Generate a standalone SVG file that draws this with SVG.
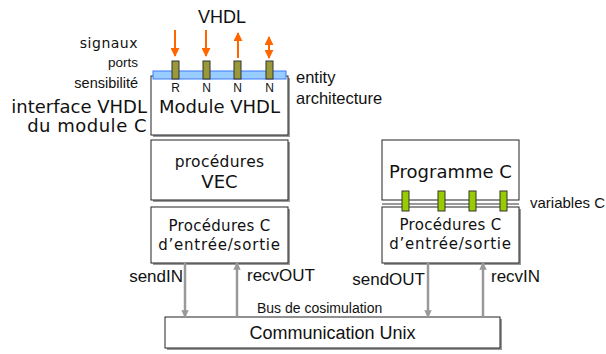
<svg xmlns="http://www.w3.org/2000/svg" width="606" height="354" viewBox="0 0 606 354">
<defs>
<style>
.box{fill:#fff;stroke:#222;stroke-width:1}
.shadow{fill:#9a9a9a}
.dv{font-family:"DejaVu Sans",Verdana,sans-serif;fill:#111}
.ar{font-family:"Liberation Sans",Arial,sans-serif;fill:#111}
.port{fill:#99993a;stroke:#333;stroke-width:1}
.var{fill:#99cc00;stroke:#333;stroke-width:1}
.sig{stroke:#ff6600;stroke-width:2;fill:none}
.bus{stroke:#999;stroke-width:2.5;fill:none}
</style>
<marker id="ao" viewBox="0 0 10 10" refX="9" refY="5" markerWidth="4.5" markerHeight="4.5" orient="auto-start-reverse" markerUnits="strokeWidth"><path d="M0,0 L10,5 L0,10 z" fill="#ff6600"/></marker>
<marker id="ag" viewBox="0 0 10 10" refX="9" refY="5" markerWidth="3" markerHeight="3" orient="auto" markerUnits="strokeWidth"><path d="M0,0 L10,5 L0,10 z" fill="#999"/></marker>
</defs>

<!-- left labels -->
<text class="ar" x="222" y="23" font-size="18" text-anchor="middle">VHDL</text>
<text class="dv" x="138" y="48" font-size="14" text-anchor="end" letter-spacing="0.5">signaux</text>
<text class="ar" x="138" y="67" font-size="13.5" text-anchor="end">ports</text>
<text class="ar" x="138" y="88" font-size="14.5" text-anchor="end">sensibilité</text>
<text class="dv" x="147" y="113" font-size="18" text-anchor="end">interface VHDL</text>
<text class="dv" x="147" y="132" font-size="18" text-anchor="end" letter-spacing="0.5">du module C</text>
<text class="ar" x="296" y="83" font-size="16.5">entity</text>
<text class="ar" x="296" y="104" font-size="16.5">architecture</text>
<text class="ar" x="530" y="208" font-size="15">variables C</text>

<g id="module-vhdl">
<rect class="shadow" x="153" y="78" width="137" height="59"/>
<rect class="box" x="151" y="76" width="137" height="59"/>
<rect x="153" y="71" width="133" height="8" fill="#99ccff" stroke="#3d7bff" stroke-width="1"/>
<rect class="port" x="172" y="61" width="7" height="18"/>
<rect class="port" x="203" y="61" width="7" height="18"/>
<rect class="port" x="234" y="61" width="7" height="18"/>
<rect class="port" x="266" y="61" width="7" height="18"/>
<text class="ar" font-size="12" y="92" text-anchor="middle"><tspan x="175.5">R</tspan><tspan x="206.5">N</tspan><tspan x="237.5">N</tspan><tspan x="269.5">N</tspan></text>
<text class="dv" x="219.5" y="113" font-size="18" text-anchor="middle">Module VHDL</text>
</g>

<g id="procedures-vec">
<rect class="shadow" x="153" y="142" width="137" height="60"/>
<rect class="box" x="151" y="140" width="137" height="60"/>
<text class="dv" x="219.5" y="167" font-size="15.5" text-anchor="middle" letter-spacing="0.3">procédures</text>
<text class="dv" x="219.5" y="188" font-size="18" text-anchor="middle">VEC</text>
</g>

<g id="procedures-c-left">
<rect class="shadow" x="153" y="209" width="137" height="56"/>
<rect class="box" x="151" y="207" width="137" height="56"/>
<text class="dv" x="219.5" y="231" font-size="15" text-anchor="middle" letter-spacing="0.3">Procédures C</text>
<text class="dv" x="219.5" y="250" font-size="15" text-anchor="middle" letter-spacing="0.8">d’entrée/sortie</text>
</g>

<g id="programme-c">
<rect class="box" x="382" y="140" width="137" height="60"/>
<text class="dv" x="450.5" y="178" font-size="18" text-anchor="middle">Programme C</text>
</g>

<g id="procedures-c-right">
<rect class="shadow" x="384" y="209" width="137" height="56"/>
<rect class="box" x="382" y="207" width="137" height="56"/>
<text class="dv" x="450.5" y="230" font-size="15" text-anchor="middle" letter-spacing="0.3">Procédures C</text>
<text class="dv" x="450.5" y="249" font-size="15" text-anchor="middle" letter-spacing="0.8">d’entrée/sortie</text>
</g>

<g id="variables">
<line x1="382" y1="204" x2="519" y2="204" stroke="#999" stroke-width="2"/>
<rect class="var" x="402" y="191" width="7" height="20"/>
<rect class="var" x="438" y="191" width="7" height="20"/>
<rect class="var" x="469" y="191" width="7" height="20"/>
<rect class="var" x="500" y="191" width="7" height="20"/>
</g>

<g id="communication-unix">
<rect class="shadow" x="167" y="319" width="335" height="31"/>
<rect class="box" x="165" y="317" width="335" height="31"/>
<text class="ar" x="332.5" y="339" font-size="18" text-anchor="middle">Communication Unix</text>
</g>

<g id="connectors">
<line class="sig" x1="175" y1="30" x2="175" y2="56" marker-end="url(#ao)"/>
<line class="sig" x1="206" y1="30" x2="206" y2="56" marker-end="url(#ao)"/>
<line class="sig" x1="238" y1="58" x2="238" y2="33" marker-end="url(#ao)"/>
<line class="sig" x1="269" y1="37" x2="269" y2="58" marker-start="url(#ao)" marker-end="url(#ao)"/>
<line class="bus" x1="185" y1="263" x2="185" y2="317" marker-end="url(#ag)"/>
<line class="bus" x1="237" y1="317" x2="237" y2="263" marker-end="url(#ag)"/>
<line class="bus" x1="428" y1="263" x2="428" y2="317" marker-end="url(#ag)"/>
<line class="bus" x1="483" y1="317" x2="483" y2="263" marker-end="url(#ag)"/>
<text class="ar" x="183" y="282" font-size="17" text-anchor="end">sendIN</text>
<text class="ar" x="247" y="281" font-size="17">recvOUT</text>
<text class="ar" x="425" y="285" font-size="17" text-anchor="end">sendOUT</text>
<text class="ar" x="491" y="282" font-size="17">recvIN</text>
<text class="ar" x="257" y="313" font-size="14">Bus de cosimulation</text>
</g>
</svg>
